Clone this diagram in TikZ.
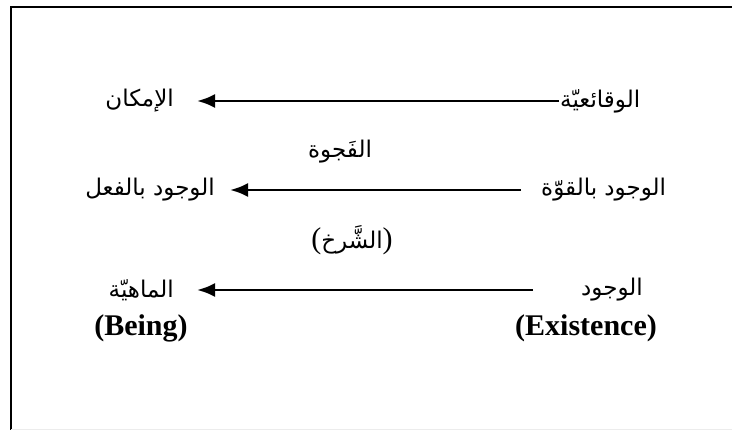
\documentclass[tikz,border=0pt]{standalone}
\usepackage{fontspec}
\setmainfont{Liberation Serif}
\newfontfamily\arabicfont[Script=Arabic]{DejaVu Sans}
\TeXXeTstate=1
\usetikzlibrary{arrows.meta,positioning}
\newcommand\bigpar[1]{{\rmfamily\fontsize{30}{30}\selectfont#1}}
\tikzset{
  >=Latex,
  ar/.style={font=\arabicfont\fontsize{23}{27}\selectfont,inner sep=1pt},
  en/.style={font=\bfseries\fontsize{30}{36}\selectfont,inner sep=1pt},
  link/.style={->,line width=2.8pt,>={Latex[length=18pt,width=14pt]}},
  frame/.style={line width=2.2pt}
}

\begin{document}
\begin{tikzpicture}[x=1pt,y=-1pt]
  \useasboundingbox (0,0) rectangle (732,430);
  \draw[frame] (11,430) -- (11,7) -- (732,7);
  \draw[gray!15,line width=1pt] (11,429.5) -- (732,429.5);
  % row 1
  \node[ar,anchor=west] (wqa) at (559,101) {\beginR الوقائعيّة\endR};
  \node[ar,anchor=east] (imk) at (175,101) {\beginR الإمكان\endR};
  \draw[link,shorten >=22pt] (wqa) -- (imk);
  \node[ar] (fjw) at (340,152) {\beginR الفَجوة\endR};
  % row 2
  \node[ar,anchor=west] (wqw) at (540,190) {\beginR الوجود بالقوّة\endR};
  \node[ar,anchor=east] (wfl) at (216,190) {\beginR الوجود بالفعل\endR};
  \draw[link,shorten <=19pt,shorten >=14pt] (wqw) -- (wfl);
  \node[ar] (shr) at (352,240) {\bigpar(\beginR الشَّرخ\endR\bigpar)};
  % row 3
  \node[ar,anchor=west] (wjd) at (580,290) {\beginR الوجود\endR};
  \node[ar,anchor=east] (mah) at (175,290) {\beginR الماهيّة\endR};
  \draw[link,shorten <=47pt,shorten >=22pt] (wjd) -- (mah);
  \node[en] (being) at (141,328) {(Being)};
  \node[en] (exist) at (586,328) {(Existence)};
\end{tikzpicture}
\end{document}
